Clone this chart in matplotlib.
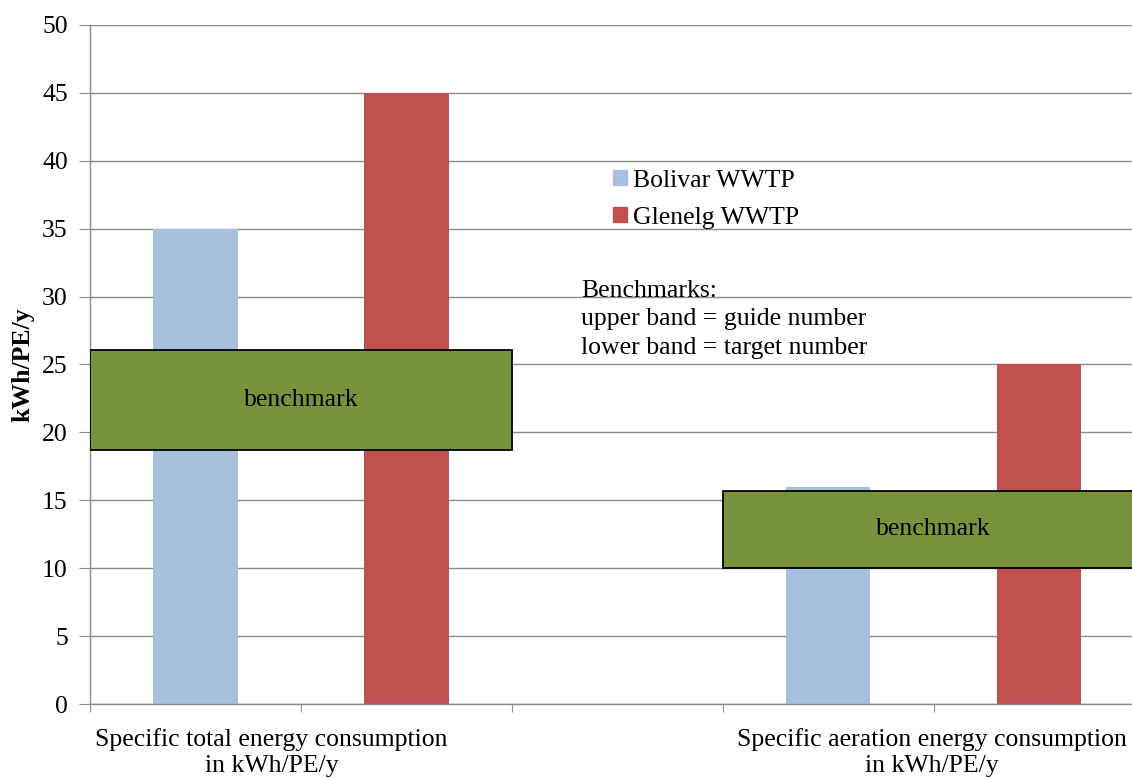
import matplotlib.pyplot as plt
from matplotlib.patches import Rectangle, Patch

# data
series = ["Bolivar WWTP", "Glenelg WWTP"]
bolivar = [35, 16]
glenelg = [45, 25]
categories = ["Specific total energy consumption\nin kWh/PE/y",
              "Specific aeration energy consumption\nin kWh/PE/y"]
# benchmark bands: (lower, upper) per category
bench_low = [18.7, 10.0]
bench_high = [26.1, 15.7]

plt.rcParams['font.family'] = ['Liberation Serif', 'DejaVu Serif']

fig = plt.figure(figsize=(11.32, 7.78), dpi=100)
ax = fig.add_axes([0.0795, 0.0951, 0.9205, 0.8728])

blue = '#A7C0DE'
red = '#C0504D'
green = '#77933C'
grid = '#8C8C8C'
fs = 18.5

# slot positions on the x axis (Excel layout)
bol_x = [0.5, 3.5]
gle_x = [1.5, 4.5]
bench_x = [(0, 2), (3, 5)]
label_x = [0.86, 3.99]

ax.bar(bol_x, bolivar, width=0.4, color=blue, zorder=2)
ax.bar(gle_x, glenelg, width=0.4, color=red, zorder=2)

for (x0, x1), lo, hi in zip(bench_x, bench_low, bench_high):
    ax.add_patch(Rectangle((x0, lo), x1 - x0, hi - lo, facecolor=green,
                           edgecolor='black', linewidth=1.3, zorder=3))
    ax.text((x0 + x1) / 2, (lo + hi) / 2, "benchmark", ha='center',
            va='center', fontsize=fs, zorder=4)

ax.set_xlim(0, 4.94)
ax.set_ylim(0, 50)
ax.set_yticks(range(0, 51, 5))
ax.set_xticks([0, 1, 2, 3, 4])
ax.set_xticklabels([])
ax.tick_params(axis='y', labelsize=fs, length=8, color=grid, pad=8)
ax.tick_params(axis='x', length=6, color=grid)
ax.yaxis.grid(True, color=grid, linewidth=1.0, zorder=0)
ax.set_axisbelow(True)
for s in ['top', 'right']:
    ax.spines[s].set_visible(False)
for s in ['left', 'bottom']:
    ax.spines[s].set_color(grid)
    ax.spines[s].set_linewidth(1.0)

for x, lab in zip(label_x, categories):
    ax.text(x, -1.75, lab, ha='center', va='top', fontsize=fs,
            linespacing=1.22)

ax.set_ylabel("kWh/PE/y", fontsize=fs, fontweight='bold')
ax.yaxis.set_label_coords(-0.053, 0.499)

handles = [Patch(color=blue), Patch(color=red)]
ax.legend(handles, series, loc='upper left', bbox_to_anchor=(0.4916, 0.802),
          frameon=False, fontsize=fs, handlelength=0.55, handleheight=0.55,
          handletextpad=0.25, labelspacing=0.58, borderaxespad=0)

ax.text(0.4715, 0.625, "Benchmarks:\nupper band = guide number\nlower band = target number",
        transform=ax.transAxes, ha='left', va='top', fontsize=fs,
        linespacing=1.38)

fig.savefig("out.png", dpi=100)
